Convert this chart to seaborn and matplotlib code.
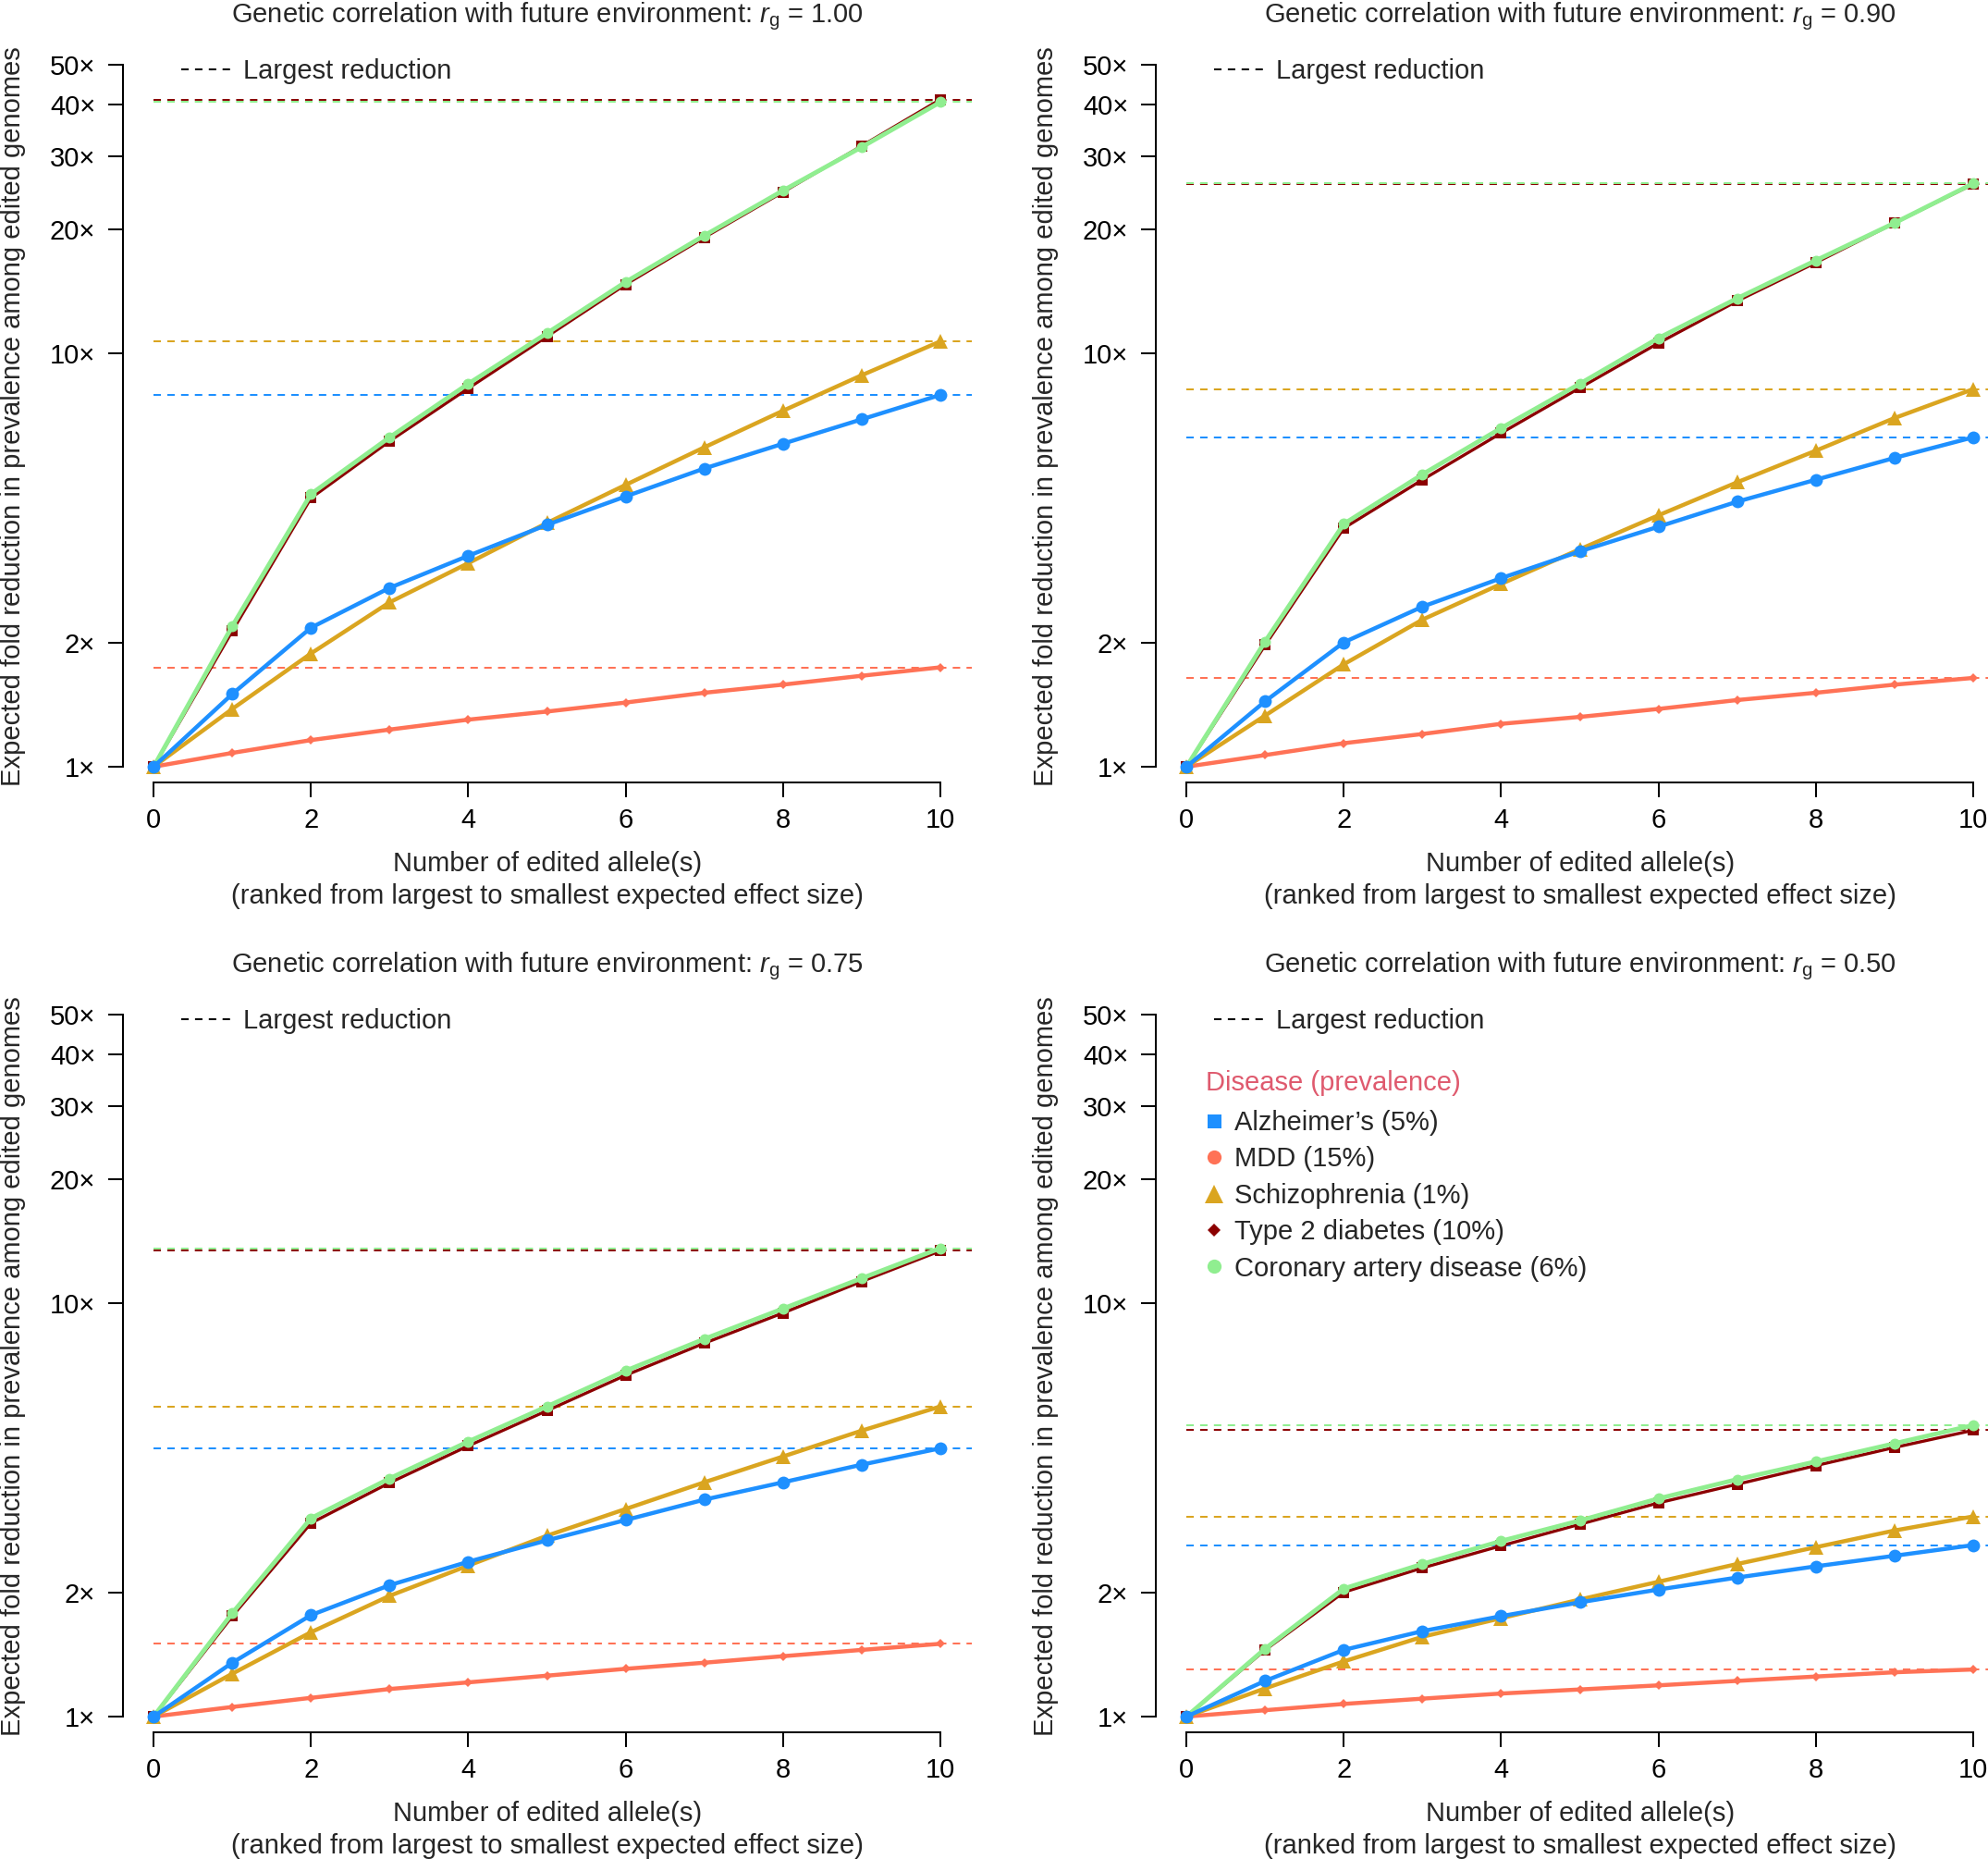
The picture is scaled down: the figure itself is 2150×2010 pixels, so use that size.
import numpy as np
import matplotlib
matplotlib.use('Agg')
import matplotlib.pyplot as plt
import seaborn as sns
from matplotlib.lines import Line2D
from matplotlib.ticker import NullLocator

# number of edited alleles (x) and the four genetic correlations (panels)
steps = list(range(11))
rg_labels = ['1.00', '0.90', '0.75', '0.50']

# expected fold reduction, one row per panel (rg = 1.00, 0.90, 0.75, 0.50)
alz_fold = [
    [1, 1.50, 2.17, 2.71, 3.24, 3.85, 4.51, 5.27, 6.05, 6.93, 7.94],
    [1, 1.44, 2.00, 2.44, 2.86, 3.32, 3.81, 4.38, 4.95, 5.59, 6.27],
    [1, 1.35, 1.76, 2.08, 2.37, 2.67, 2.99, 3.35, 3.69, 4.07, 4.46],
    [1, 1.22, 1.45, 1.61, 1.75, 1.89, 2.03, 2.17, 2.31, 2.45, 2.60],
]
mdd_fold = [
    [1, 1.08, 1.16, 1.23, 1.30, 1.36, 1.43, 1.51, 1.58, 1.66, 1.74],
    [1, 1.067, 1.14, 1.20, 1.27, 1.32, 1.38, 1.45, 1.51, 1.58, 1.64],
    [1, 1.055, 1.11, 1.166, 1.21, 1.256, 1.305, 1.35, 1.40, 1.45, 1.50],
    [1, 1.036, 1.073, 1.105, 1.137, 1.163, 1.19, 1.22, 1.25, 1.28, 1.30],
]
scz_fold = [
    [1, 1.38, 1.88, 2.50, 3.11, 3.89, 4.81, 5.93, 7.27, 8.86, 10.7],
    [1, 1.33, 1.77, 2.27, 2.77, 3.36, 4.06, 4.88, 5.82, 6.98, 8.20],
    [1, 1.27, 1.60, 1.96, 2.32, 2.74, 3.18, 3.69, 4.26, 4.92, 5.63],
    [1, 1.17, 1.36, 1.56, 1.73, 1.92, 2.12, 2.34, 2.57, 2.82, 3.05],
]
t2d_fold = [
    [1, 2.13, 4.47, 6.14, 8.24, 11.0, 14.7, 19.1, 24.6, 31.8, 41.2],
    [1, 1.97, 3.78, 4.95, 6.42, 8.26, 10.6, 13.4, 16.6, 20.7, 25.7],
    [1, 1.75, 2.94, 3.68, 4.52, 5.50, 6.70, 8.01, 9.48, 11.3, 13.4],
    [1, 1.45, 2.00, 2.29, 2.59, 2.92, 3.29, 3.65, 4.05, 4.48, 4.93],
]
cad_fold = [
    [1, 2.19, 4.57, 6.27, 8.45, 11.2, 14.9, 19.3, 24.8, 31.6, 40.6],
    [1, 2.01, 3.87, 5.10, 6.60, 8.45, 10.9, 13.6, 16.8, 20.7, 25.8],
    [1, 1.78, 3.02, 3.77, 4.63, 5.63, 6.87, 8.20, 9.71, 11.5, 13.6],
    [1, 1.46, 2.04, 2.34, 2.66, 2.98, 3.37, 3.75, 4.14, 4.58, 5.07],
]

disease_labels = ['Alzheimer\u2019s (5%)', 'MDD (15%)', 'Schizophrenia (1%)',
                  'Type 2 diabetes (10%)', 'Coronary artery disease (6%)']
y_ticks = [1, 2, 10, 20, 30, 40, 50]
x_ticks = [0, 2, 4, 6, 8, 10]

ALZ_C, MDD_C, SCZ_C, T2D_C, CAD_C = '#1E90FF', '#FF7256', '#DAA520', '#8B0000', '#90EE90'

sns.set_theme(style='ticks')
plt.rcParams['font.family'] = ['Liberation Sans', 'DejaVu Sans']
plt.rcParams['mathtext.fontset'] = 'custom'
plt.rcParams['mathtext.rm'] = 'Liberation Sans'
plt.rcParams['mathtext.it'] = 'Liberation Sans:italic'
FS = 21

fig = plt.figure(figsize=(21.5, 20.1), dpi=100)
FIG_W, FIG_H = 2150, 2010
AX_W, AX_H = 918, 791
panel_left = [133, 1250, 133, 1250]
panel_bottom = [846, 846, 1873, 1873]
XLO, XHI = -0.39, 10.4
YLO = 10 ** (-17 / 446.7)
YHI = 10 ** (np.log10(50) + 15 / 446.7)
DASH = (0, (4.0, 3.4))

for i, rg in enumerate(rg_labels):
    ax = fig.add_axes([panel_left[i] / FIG_W, 1 - panel_bottom[i] / FIG_H,
                       AX_W / FIG_W, AX_H / FIG_H])

    # (values, colour, marker, markersize, linewidth) in drawing order
    series = [
        (t2d_fold[i], T2D_C, 's', 8.0, 2.4),
        (cad_fold[i], CAD_C, 'o', 8.6, 3.5),
        (mdd_fold[i], MDD_C, 'D', 5.6, 3.2),
        (scz_fold[i], SCZ_C, '^', 12.0, 3.2),
        (alz_fold[i], ALZ_C, 'o', 10.0, 3.2),
    ]

    # largest reduction reference lines
    for vals, col, _, _, _ in [series[4], series[2], series[3], series[0], series[1]]:
        ax.hlines(max(vals), steps[0], XHI, colors=col, linestyles=DASH,
                  linewidth=1.45, zorder=1)

    for vals, col, mk, ms, lw in series:
        sns.lineplot(x=steps, y=vals, ax=ax, color=col, linewidth=lw,
                     marker=mk, markersize=ms, markeredgewidth=0,
                     legend=False, zorder=2, clip_on=False)

    ax.set_yscale('log')
    ax.set_xlim(XLO, XHI)
    ax.set_ylim(YLO, YHI)
    ax.set_yticks(y_ticks)
    ax.set_yticklabels([f'{t}\u00d7' for t in y_ticks])
    ax.yaxis.set_minor_locator(NullLocator())
    ax.set_xticks(x_ticks)
    ax.set_xticklabels([str(t) for t in x_ticks])

    sns.despine(ax=ax)
    ax.spines['left'].set_bounds(1, 50)
    ax.spines['bottom'].set_bounds(0, 10)
    for s in ('left', 'bottom'):
        ax.spines[s].set_linewidth(1.45)
        ax.spines[s].set_color('black')
    ax.tick_params(axis='both', length=11.5, width=1.45, color='black',
                   labelsize=FS, labelcolor='black')
    ax.tick_params(axis='y', pad=10)
    ax.tick_params(axis='x', pad=8)

    ax.set_title(rf'Genetic correlation with future environment: $r_{{\mathrm{{g}}}}$ = {rg}',
                 fontsize=FS, pad=22)
    ax.set_xlabel('Number of edited allele(s)\n(ranked from largest to smallest expected effect size)',
                  fontsize=FS, linespacing=1.3)
    ax.xaxis.set_label_coords(0.5, -0.094)
    ax.set_ylabel('Expected fold reduction in prevalence among edited genomes', fontsize=FS)
    ax.yaxis.set_label_coords(-0.1296, 0.5)
    ax.yaxis.label.set_verticalalignment('center')

    dash_handle = Line2D([], [], color='black', linewidth=1.45, linestyle=DASH)
    leg1 = ax.legend([dash_handle], ['Largest reduction'], loc='center left',
                     bbox_to_anchor=((196 - 133) / AX_W, 0.972),
                     frameon=False, fontsize=FS, handlelength=1.95, handletextpad=0.36,
                     borderpad=0, borderaxespad=0)

    if i == 3:
        ax.add_artist(leg1)
        handles = [
            Line2D([], [], ls='none', marker='s', ms=10.8, color=ALZ_C, mew=0),
            Line2D([], [], ls='none', marker='o', ms=11, color=MDD_C, mew=0),
            Line2D([], [], ls='none', marker='^', ms=14.4, color=SCZ_C, mew=0),
            Line2D([], [], ls='none', marker='D', ms=7.1, color=T2D_C, mew=0),
            Line2D([], [], ls='none', marker='o', ms=11, color=CAD_C, mew=0),
        ]
        ax.text((1304 - 1250) / AX_W, (1873 - 1171) / AX_H, 'Disease (prevalence)',
                transform=ax.transAxes, fontsize=FS, color='#DF5A6E',
                ha='left', va='center')
        ax.legend(handles, disease_labels, loc='upper left',
                  bbox_to_anchor=((1301 - 1250) / AX_W, (1873 - 1200) / AX_H),
                  frameon=False, fontsize=FS, handlelength=0.8, handletextpad=0.38,
                  labelspacing=0.39, borderpad=0, borderaxespad=0)

fig.savefig('out.png', dpi=100)
